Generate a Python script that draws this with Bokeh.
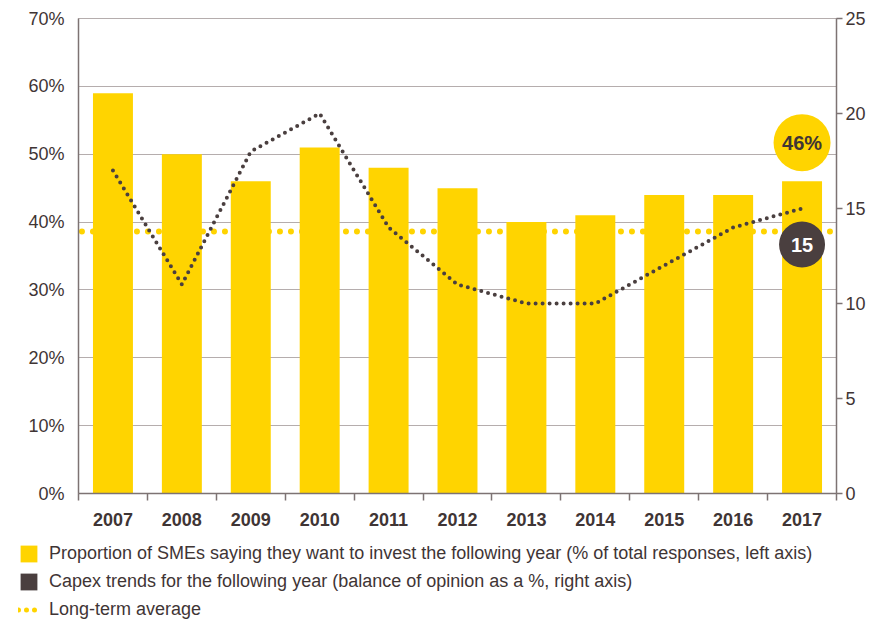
from bokeh.plotting import figure
from bokeh.models import (Range1d, LinearAxis, FixedTicker, Legend, LegendItem,
                          ColumnDataSource)
from bokeh.embed import file_html
from bokeh.resources import INLINE
from bokeh.core.properties import value

# ---- data ----
years = ["2007", "2008", "2009", "2010", "2011", "2012", "2013", "2014", "2015", "2016", "2017"]
invest_pct = [59, 50, 46, 51, 48, 45, 40, 41, 44, 44, 46]
capex_balance = [17, 11, 18, 20, 14, 11, 10, 10, 12, 14, 15]
long_term_avg = 38.6
left_ticks = [0, 10, 20, 30, 40, 50, 60, 70]
right_ticks = [0, 5, 10, 15, 20, 25]
legend_labels = [
    "Proportion of SMEs saying they want to invest the following year (% of total responses, left axis)",
    "Capex trends for the following year (balance of opinion as a %, right axis)",
    "Long-term average",
]

YELLOW = "#FFD400"
DARK = "#4A3F3F"
GRID = "#B5ADAD"
AXIS = "#7D7373"
TEXT = "#3F3535"
FONT = "Liberation Sans"

n = len(years)
xs = list(range(n))

p = figure(frame_width=758, frame_height=475, output_backend="svg", toolbar_location=None,
           x_range=Range1d(-0.5, n - 0.5), y_range=Range1d(0, 70),
           min_border_left=78, min_border_right=49, min_border_top=18,
           min_border_bottom=42)
p.extra_y_ranges = {"capex": Range1d(0, 25)}
p.outline_line_color = GRID
p.outline_line_width = 1
p.background_fill_color = "white"
p.border_fill_color = "white"
p.xgrid.visible = False
p.ygrid.ticker = FixedTicker(ticks=left_ticks)
p.ygrid.grid_line_color = GRID
p.ygrid.grid_line_width = 1

# left axis
ya = p.yaxis[0]
ya.ticker = FixedTicker(ticks=left_ticks)
ya.major_label_overrides = {t: f"{t}%" for t in left_ticks}
ya.major_tick_out = 0
ya.major_tick_in = 0
ya.minor_tick_out = 0
ya.minor_tick_in = 0
ya.axis_line_color = AXIS
ya.axis_line_width = 1.5
ya.major_label_text_font = FONT
ya.major_label_text_font_size = "18px"
ya.major_label_text_color = TEXT
ya.major_label_standoff = 14

# right axis
ra = LinearAxis(y_range_name="capex", ticker=FixedTicker(ticks=right_ticks))
ra.major_tick_out = 6
ra.major_tick_in = 0
ra.minor_tick_out = 0
ra.minor_tick_in = 0
ra.major_tick_line_color = AXIS
ra.major_tick_line_width = 1.5
ra.axis_line_color = AXIS
ra.axis_line_width = 1.5
ra.major_label_text_font = FONT
ra.major_label_text_font_size = "18px"
ra.major_label_text_color = TEXT
ra.major_label_standoff = 3
p.add_layout(ra, "right")

# x axis
xa = p.xaxis[0]
xa.ticker = FixedTicker(ticks=xs, minor_ticks=[i - 0.5 for i in range(n + 1)])
xa.major_label_overrides = {i: y for i, y in enumerate(years)}
xa.major_tick_out = 0
xa.major_tick_in = 0
xa.minor_tick_out = 7
xa.minor_tick_in = 0
xa.minor_tick_line_color = AXIS
xa.minor_tick_line_width = 1.5
xa.axis_line_color = AXIS
xa.axis_line_width = 1.5
xa.major_label_text_font = FONT
xa.major_label_text_font_style = "bold"
xa.major_label_text_font_size = "18px"
xa.major_label_text_color = TEXT
xa.major_label_standoff = 12

# long-term average (behind bars)
avg = p.line(x=[-0.45, n - 0.55], y=[long_term_avg, long_term_avg],
             line_color=YELLOW, line_width=6, line_dash="0 11", line_cap="round")

# bars
src = ColumnDataSource(dict(x=xs, top=invest_pct, capex=capex_balance))
bars = p.vbar(x="x", top="top", width=0.58, source=src, fill_color=YELLOW, line_color=None)

# capex line
cap = p.line(x="x", y="capex", source=src, y_range_name="capex",
             line_color=DARK, line_width=4, line_dash="0 7", line_cap="round")

# highlight bubbles for last year
last_x = xs[-1]
p.scatter(x=[last_x], y=[invest_pct[-1] + 5.7], size=57, marker="circle",
          fill_color=YELLOW, line_color=None)
p.text(x=[last_x], y=[invest_pct[-1] + 5.7], text=[f"{invest_pct[-1]}%"],
       text_align="center", text_baseline="middle", text_font=value(FONT),
       text_font_style="bold", text_font_size="20px", text_color=TEXT)
p.scatter(x=[last_x], y=[capex_balance[-1] - 1.9], size=46, marker="circle",
          fill_color=DARK, line_color=None, y_range_name="capex")
p.text(x=[last_x], y=[capex_balance[-1] - 1.9], text=[str(capex_balance[-1])],
       text_align="center", text_baseline="middle", text_font=value(FONT),
       text_font_style="bold", text_font_size="20px", text_color="white",
       y_range_name="capex")

# ---- legend figure (separate root; proxy renderers lie outside its visible range) ----
lg = figure(width=885, height=85, output_backend="svg", toolbar_location=None,
            x_range=Range1d(0, 1), y_range=Range1d(0, 1),
            min_border=0, outline_line_color=None)
lg.axis.visible = False
lg.grid.visible = False
lg.background_fill_color = "white"
lg.border_fill_color = "white"
proxy = ColumnDataSource(dict(x=[-5], y=[-5]))
leg_y = lg.vbar(x="x", top="y", width=0.5, source=proxy, fill_color=YELLOW, line_color=None)
leg_d = lg.vbar(x="x", top="y", width=0.5, source=proxy, fill_color=DARK, line_color=None)
leg_l = lg.line(x="x", y="y", source=proxy, line_color=YELLOW, line_width=5,
                line_dash="0 8", line_cap="round")

legend = Legend(items=[
    LegendItem(label=legend_labels[0], renderers=[leg_y]),
    LegendItem(label=legend_labels[1], renderers=[leg_d]),
    LegendItem(label=legend_labels[2], renderers=[leg_l]),
], location=(18, 0), orientation="vertical", glyph_width=21, glyph_height=21,
    label_text_font=FONT, label_text_font_size="18px", label_text_color=TEXT,
    label_standoff=10, spacing=7, padding=0, margin=0, border_line_color=None,
    background_fill_alpha=0, label_height=21)
lg.add_layout(legend, "center")

open("out.html", "w").write(file_html((p, lg), INLINE))
